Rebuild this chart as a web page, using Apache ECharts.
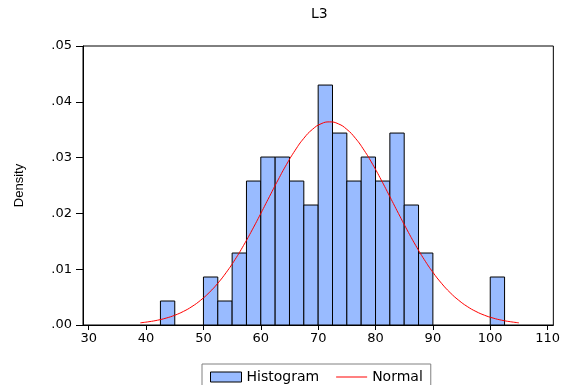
<!DOCTYPE html>
<html>
<head>
<meta charset="utf-8">
<script src="https://cdn.jsdelivr.net/npm/echarts@6/dist/echarts.min.js"></script>
<style>
  html, body { margin: 0; padding: 0; background: #fff; }
  #chart { width: 563px; height: 385px; }
</style>
</head>
<body>
<div id="chart"></div>
<script>
// Histogram of L3: left edge of each bin and its density
const binWidth = 2.5;
const binStarts = [42.5, 50, 52.5, 55, 57.5, 60, 62.5, 65, 67.5, 70, 72.5, 75, 77.5, 80, 82.5, 85, 87.5, 100];
const densities = [0.0043, 0.0086, 0.0043, 0.0129, 0.0258, 0.0301, 0.0301, 0.0258, 0.0215, 0.0430, 0.0344, 0.0258, 0.0301, 0.0258, 0.0344, 0.0215, 0.0129, 0.0086];

// Fitted normal density curve
const normalX = [39, 40.5, 42, 43.5, 45, 46.5, 48, 49.5, 51, 52.5, 54, 55.5, 57, 58.5, 60, 61.5, 63, 64.5, 66, 67.5, 69, 70.5,
                 72, 73.5, 75, 76.5, 78, 79.5, 81, 82.5, 84, 85.5, 87, 88.5, 90, 91.5, 93, 94.5, 96, 97.5, 99, 100.5, 102, 103.5, 105];
const normalY = [0.00039, 0.00059, 0.00086, 0.00124, 0.00175, 0.00243, 0.00331, 0.00443, 0.00581, 0.00748, 0.00945, 0.01172,
                 0.01427, 0.01705, 0.01999, 0.02300, 0.02598, 0.02880, 0.03133, 0.03346, 0.03506, 0.03606,
                 0.03640,
                 0.03606, 0.03506, 0.03346, 0.03133, 0.02880, 0.02598, 0.02300, 0.01999, 0.01705, 0.01427, 0.01172,
                 0.00945, 0.00748, 0.00581, 0.00443, 0.00331, 0.00243, 0.00175, 0.00124, 0.00086, 0.00059, 0.00039];

// Axis ticks
const xTicks = [30, 40, 50, 60, 70, 80, 90, 100, 110];
const yTickLabels = ['.00', '.01', '.02', '.03', '.04', '.05'];

const histData = binStarts.map((s, i) => [s, s + binWidth, densities[i]]);
const normalData = normalX.map((x, i) => [x, normalY[i]]);

const barFill = '#99bbff';
const tickFont = { fontFamily: 'DejaVu Sans', fontSize: 13, color: '#000' };

const chart = echarts.init(document.getElementById('chart'), null, { renderer: 'canvas' });
chart.setOption({
  animation: false,
  backgroundColor: '#fff',
  title: {
    text: 'L3',
    left: 306,
    top: 2,
    textStyle: { fontFamily: 'DejaVu Sans', fontSize: 14, fontWeight: 'normal', color: '#000' }
  },
  grid: {
    left: 83, top: 46, width: 471, height: 279,
    show: true, borderColor: '#000', borderWidth: 1, backgroundColor: 'transparent'
  },
  legend: {
    left: 202, top: 364,
    padding: [6, 8, 12, 8],
    itemGap: 17,
    itemWidth: 31, itemHeight: 10,
    borderColor: '#808080', borderWidth: 1,
    textStyle: { fontFamily: 'DejaVu Sans', fontSize: 14, color: '#000' },
    data: [
      { name: 'Histogram', icon: 'rect', itemStyle: { color: barFill, borderColor: '#000', borderWidth: 1 } },
      { name: 'Normal', icon: 'path://M0,0 L31,0 L31,1 L0,1 Z', itemStyle: { color: '#ff0000' } }
    ]
  },
  xAxis: {
    type: 'value',
    min: 29, max: 111,
    splitLine: { show: false },
    axisLine: { show: true, onZero: false, lineStyle: { color: '#000', width: 1 } },
    axisTick: { show: true, length: 5, customValues: xTicks, lineStyle: { color: '#000' } },
    axisLabel: Object.assign({ customValues: xTicks, margin: 7 }, tickFont)
  },
  yAxis: {
    type: 'value',
    min: 0, max: 0.05, interval: 0.01,
    name: 'Density',
    nameLocation: 'middle',
    nameGap: 57,
    nameTextStyle: { fontFamily: 'Liberation Sans', fontSize: 13, color: '#000' },
    splitLine: { show: false },
    axisLine: { show: true, lineStyle: { color: '#000', width: 1 } },
    axisTick: { show: true, length: 7, lineStyle: { color: '#000' } },
    axisLabel: Object.assign({
      margin: 11,
      formatter: (v) => yTickLabels[Math.round(v / 0.01)]
    }, tickFont)
  },
  series: [
    {
      name: 'Histogram',
      type: 'custom',
      data: histData,
      encode: { x: [0, 1], y: 2 },
      itemStyle: { color: barFill },
      renderItem: (params, api) => {
        const p0 = api.coord([api.value(0), 0]);
        const p1 = api.coord([api.value(1), api.value(2)]);
        return {
          type: 'rect',
          shape: { x: p0[0], y: p1[1], width: p1[0] - p0[0], height: p0[1] - p1[1] },
          style: { fill: barFill, stroke: '#000', lineWidth: 1 }
        };
      },
      z: 2
    },
    {
      name: 'Normal',
      type: 'line',
      data: normalData,
      smooth: true,
      symbol: 'none',
      lineStyle: { color: '#ff0000', width: 1 },
      itemStyle: { color: '#ff0000' },
      z: 3
    }
  ]
});
</script>
</body>
</html>
